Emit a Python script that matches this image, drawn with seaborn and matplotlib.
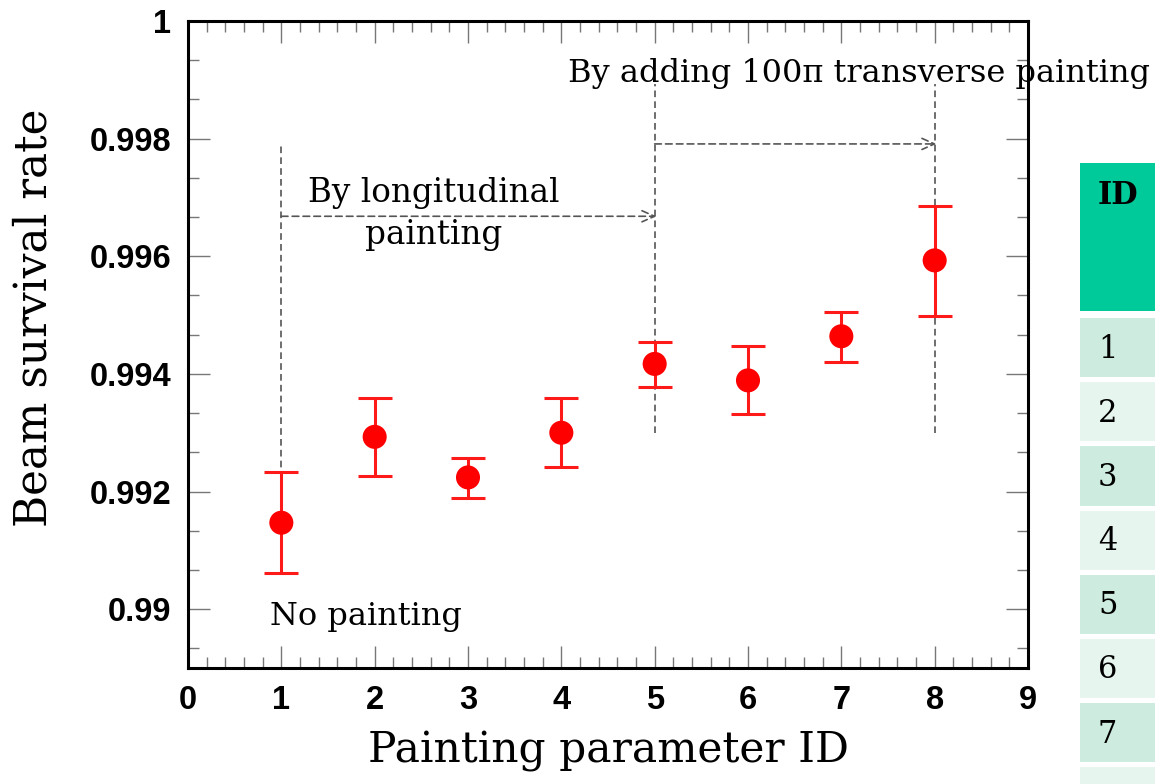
import numpy as np
import matplotlib
matplotlib.use("Agg")
import matplotlib.pyplot as plt
from matplotlib.patches import Rectangle
from matplotlib.ticker import MultipleLocator, FixedLocator
from matplotlib import font_manager as fm
import seaborn as sns
import pandas as pd

# Beam survival rate per painting parameter set
param_id = [1, 2, 3, 4, 5, 6, 7, 8]
survival = [0.99147, 0.99293, 0.99224, 0.99300, 0.99417, 0.99389, 0.99464, 0.99593]
err_up = [0.00087, 0.00066, 0.00033, 0.00059, 0.00038, 0.00059, 0.00042, 0.00092]
err_dn = [0.00086, 0.00066, 0.00035, 0.00059, 0.00040, 0.00058, 0.00043, 0.00094]

x_ticks = [0, 1, 2, 3, 4, 5, 6, 7, 8, 9]
y_ticks = [0.990, 0.992, 0.994, 0.996, 0.998, 1.000]
y_tick_labels = ["0.99", "0.992", "0.994", "0.996", "0.998", "1"]
table_ids = ["1", "2", "3", "4", "5", "6", "7", "8"]

df = pd.DataFrame({"id": param_id, "rate": survival})

sns.set_style("ticks")
plt.rcParams["text.color"] = "black"
plt.rcParams["axes.labelcolor"] = "black"

# regular-width Arial-metric bold face for the tick numbers
bold_path = None
for f in fm.findSystemFonts():
    if f.endswith("LiberationSans-Bold.ttf"):
        bold_path = f
        break
if bold_path:
    tick_font = fm.FontProperties(fname=bold_path, size=23.5)
else:
    tick_font = fm.FontProperties(family="DejaVu Sans", weight="bold", size=21)

W, H = 1155, 784
fig = plt.figure(figsize=(W / 100, H / 100), dpi=100)
ax = fig.add_axes([188 / W, 1 - 668 / H, (1028 - 188) / W, (668 - 21) / H])

serif = ["DejaVu Serif"]

ax.errorbar(param_id, survival, yerr=[err_dn, err_up], fmt="none",
            ecolor="#ff1a1a", elinewidth=2.2, capsize=12, capthick=2.2, zorder=3)
sns.scatterplot(data=df, x="id", y="rate", ax=ax, s=300, color="#ff0000",
                edgecolor="none", zorder=4, legend=False)

ax.set_xlim(0, 9)
ax.set_ylim(0.989, 1.0)
ax.xaxis.set_major_locator(FixedLocator(x_ticks))
ax.xaxis.set_minor_locator(MultipleLocator(0.2))
ax.yaxis.set_major_locator(FixedLocator(y_ticks))
ax.yaxis.set_minor_locator(MultipleLocator(0.002 / 3))
ax.set_yticklabels(y_tick_labels)
ax.set_xticklabels([str(t) for t in x_ticks])

for lab in ax.get_xticklabels() + ax.get_yticklabels():
    lab.set_fontproperties(tick_font)
    lab.set_color("black")

ax.tick_params(which="major", direction="in", length=16, width=1.0, color="#777777",
               top=True, right=True, pad=12)
ax.tick_params(which="minor", direction="in", length=8, width=1.0, color="#777777",
               top=True, right=True)
for s in ax.spines.values():
    s.set_linewidth(2.2)
    s.set_color("black")

ax.set_xlabel("Painting parameter ID", family=serif, fontsize=30.5, labelpad=10,
              color="black")
ax.set_ylabel("Beam survival rate", family=serif, fontsize=31.5, color="black")
ax.yaxis.set_label_coords(-0.158, 0.541)

dash = dict(color="#555555", lw=1.2, ls=(0, (4, 2.5)))
ax.plot([1, 1], [0.99094, 0.99791], **dash, zorder=2)
ax.plot([5, 5], [0.99300, 0.99893], **dash, zorder=2)
ax.plot([8, 8], [0.99300, 0.99893], **dash, zorder=2)
arrow = dict(arrowstyle="->,head_length=0.9,head_width=0.4",
             color="#555555", lw=1.2, ls=(0, (4, 2.5)), shrinkA=0, shrinkB=0)
ax.annotate("", xy=(5.02, 0.99668), xytext=(1, 0.99668), arrowprops=arrow)
ax.annotate("", xy=(8.02, 0.99791), xytext=(5, 0.99791), arrowprops=arrow)

ax.text(2.63, 0.99692, "By longitudinal", family=serif, fontsize=23.5,
        ha="center", va="baseline", color="black")
ax.text(2.63, 0.99621, "painting", family=serif, fontsize=23.5,
        ha="center", va="baseline", color="black")
ax.text(4.07, 0.99896, "By adding 100π transverse painting", family=serif, fontsize=23,
        ha="left", va="baseline", clip_on=False, color="black")
ax.text(0.88, 0.98973, "No painting", family=serif, fontsize=23, ha="left",
        va="baseline", color="black")

# side table with the parameter IDs
def rect(x0, y0, x1, y1, color):
    fig.patches.append(Rectangle((x0 / W, 1 - y1 / H), (x1 - x0) / W, (y1 - y0) / H,
                                 transform=fig.transFigure, facecolor=color,
                                 edgecolor="none", zorder=0))

rect(1080, 163, 1200, 311, "#00c99a")
fig.text(1098 / W, 1 - 196 / H, "ID", family=serif, fontweight="bold", fontsize=22,
         va="center", ha="left", color="black")
row_top = 318
row_h = 64.2
for i, label in enumerate(table_ids):
    y0 = row_top + i * row_h
    rect(1080, y0, 1200, y0 + row_h - 5, "#cdebde" if i % 2 == 0 else "#e6f5ee")
    fig.text(1098 / W, 1 - (y0 + 31) / H, label, family=serif, fontsize=22,
             va="center", ha="left", color="black")

fig.savefig("out.png", dpi=100)
